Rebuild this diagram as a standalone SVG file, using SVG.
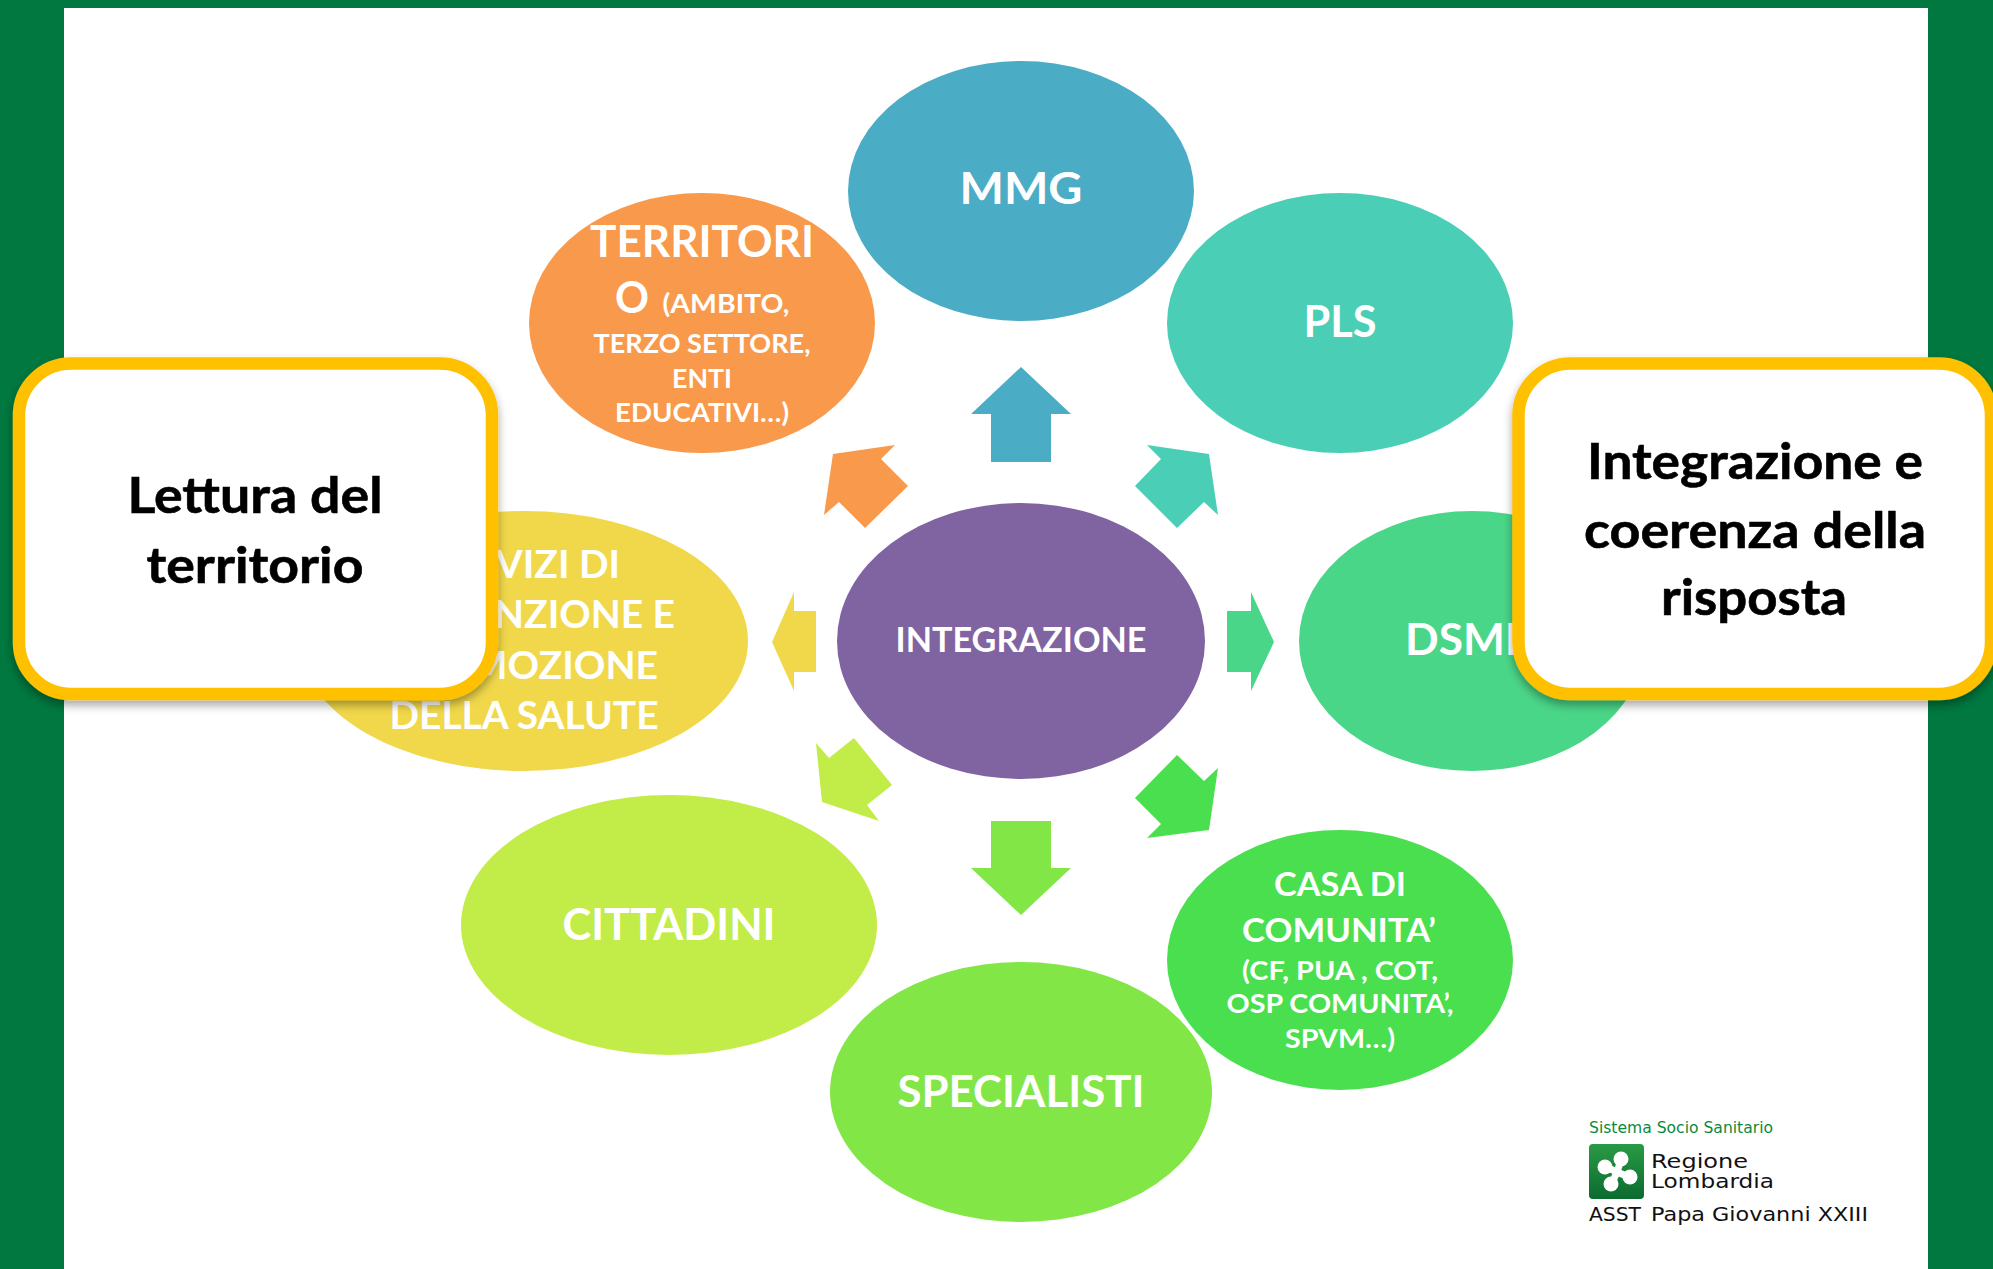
<svg xmlns="http://www.w3.org/2000/svg" width="1993" height="1269" viewBox="0 0 1993 1269">
<style>
text{font-family:Lato,"Open Sans","Liberation Sans",sans-serif;font-weight:700;text-anchor:middle}
.w{fill:#fff}
.k{fill:#000;font-size:50px;stroke:#000;stroke-width:.6}
.b{fill:#fff;stroke:#FFC000;stroke-width:12.5;filter:url(#sh)}
.l{font-family:"DejaVu Sans","Liberation Sans",sans-serif;font-weight:400;text-anchor:start;fill:#111;font-size:19px}
</style>
<defs>
<filter id="sh" x="-10%" y="-10%" width="120%" height="125%"><feDropShadow dx="0" dy="5" stdDeviation="5" flood-color="#000" flood-opacity=".35"/></filter>
<linearGradient id="lg" x1="0" y1="0" x2="0" y2="1"><stop offset="0" stop-color="#2a9a45"/><stop offset="1" stop-color="#0b6b30"/></linearGradient>
</defs>
<g id="frame">
<rect width="1993" height="1269" fill="#00783F"/>
<rect x="64" y="8" width="1864" height="1261" fill="#fff"/>
</g>
<g id="connectors">
<path fill="#4BACC6" d="M1021 367L1071 414H1051V462H991V414H971Z"/>
<path fill="#4ACFB6" d="M1209 454L1147 445L1161 459L1135 486L1177 528L1204 502L1218 515Z"/>
<path fill="#4AD688" d="M1227 611H1251V592L1274 642L1251 691V672H1227Z"/>
<path fill="#4ADF4E" d="M1177 755L1204 781L1218 768L1209 830L1147 838L1161 824L1135 798Z"/>
<path fill="#82E646" d="M991 821H1051V868H1071L1021 915L971 868H991Z"/>
<path fill="#C2EC47" d="M816 743L829 758L854 738L892 785L867 805L879 821L822 802Z"/>
<path fill="#F1D84A" d="M772 642L794 592V611H816V672H794V691Z"/>
<path fill="#F9994B" d="M833 454L895 445L881 459L908 486L865 528L839 502L824 515Z"/>
</g>
<g id="mmg"><ellipse cx="1021" cy="191" rx="173" ry="130" fill="#4BACC6"/>
<text class="w" x="1021" y="204" font-size="44" textLength="123" lengthAdjust="spacingAndGlyphs">MMG</text></g>
<g id="pls"><ellipse cx="1340" cy="323" rx="173" ry="130" fill="#4ACFB6"/>
<text class="w" x="1340" y="337" font-size="44" textLength="73" lengthAdjust="spacingAndGlyphs">PLS</text></g>
<g id="dsm"><ellipse cx="1472" cy="641" rx="173" ry="130" fill="#4AD688"/>
<text class="w" x="1472" y="655" font-size="44" textLength="134" lengthAdjust="spacingAndGlyphs">DSMH</text></g>
<g id="casa"><ellipse cx="1340" cy="960" rx="173" ry="130" fill="#4ADF4E"/>
<text class="w" x="1340" y="896" font-size="32" textLength="132" lengthAdjust="spacingAndGlyphs">CASA DI</text>
<text class="w" x="1339" y="942" font-size="32" textLength="194" lengthAdjust="spacingAndGlyphs">COMUNITA’</text>
<text class="w" x="1340" y="980" font-size="27" textLength="196" lengthAdjust="spacingAndGlyphs">(CF, PUA , COT,</text>
<text class="w" x="1340" y="1013" font-size="27" textLength="227" lengthAdjust="spacingAndGlyphs">OSP COMUNITA’,</text>
<text class="w" x="1340" y="1048" font-size="27" textLength="110" lengthAdjust="spacingAndGlyphs">SPVM…)</text></g>
<g id="specialisti"><ellipse cx="1021" cy="1092" rx="191" ry="130" fill="#82E646"/>
<text class="w" x="1021" y="1107" font-size="44" textLength="247" lengthAdjust="spacingAndGlyphs">SPECIALISTI</text></g>
<g id="cittadini"><ellipse cx="669" cy="925" rx="208" ry="130" fill="#C2EC47"/>
<text class="w" x="669" y="940" font-size="44" textLength="213" lengthAdjust="spacingAndGlyphs">CITTADINI</text></g>
<g id="servizi"><ellipse cx="524" cy="641" rx="224" ry="130" fill="#F1D84A"/>
<text class="w" x="524" y="578" font-size="38" textLength="192" lengthAdjust="spacingAndGlyphs">SERVIZI DI</text>
<text class="w" x="524" y="628" font-size="38" textLength="302" lengthAdjust="spacingAndGlyphs">PREVENZIONE E</text>
<text class="w" x="524" y="679" font-size="38" textLength="268" lengthAdjust="spacingAndGlyphs">PROMOZIONE</text>
<text class="w" x="524" y="729" font-size="38" textLength="269" lengthAdjust="spacingAndGlyphs">DELLA SALUTE</text></g>
<g id="territorio"><ellipse cx="702" cy="323" rx="173" ry="130" fill="#F9994B"/>
<text class="w" x="702" y="257" font-size="44" textLength="224" lengthAdjust="spacingAndGlyphs">TERRITORI</text>
<text class="w" x="632" y="313" font-size="44" textLength="34" lengthAdjust="spacingAndGlyphs">O</text>
<text class="w" x="726" y="313" font-size="27" textLength="127" lengthAdjust="spacingAndGlyphs">(AMBITO,</text>
<text class="w" x="702" y="353" font-size="27" textLength="217" lengthAdjust="spacingAndGlyphs">TERZO SETTORE,</text>
<text class="w" x="702" y="388" font-size="27" textLength="60" lengthAdjust="spacingAndGlyphs">ENTI</text>
<text class="w" x="702" y="422" font-size="27" textLength="174" lengthAdjust="spacingAndGlyphs">EDUCATIVI…)</text></g>
<g id="integrazione"><ellipse cx="1021" cy="641" rx="184" ry="138" fill="#8064A2"/>
<text class="w" x="1021" y="652" font-size="35" textLength="251" lengthAdjust="spacingAndGlyphs">INTEGRAZIONE</text></g>
<g id="lettura"><rect class="b" x="19" y="363.5" width="473" height="330.5" rx="52"/>
<text class="k" x="255" y="513" textLength="255" lengthAdjust="spacingAndGlyphs">Lettura del</text>
<text class="k" x="255" y="583" textLength="217" lengthAdjust="spacingAndGlyphs">territorio</text></g>
<g id="coerenza"><rect class="b" x="1518.5" y="363.5" width="472.5" height="330.5" rx="52"/>
<text class="k" x="1755" y="479" textLength="336" lengthAdjust="spacingAndGlyphs">Integrazione e</text>
<text class="k" x="1755" y="548" textLength="342" lengthAdjust="spacingAndGlyphs">coerenza della</text>
<text class="k" x="1754" y="615" textLength="186" lengthAdjust="spacingAndGlyphs">risposta</text></g>
<g id="logo">
<text class="l" x="1589" y="1133" style="fill:#0b8a3c;font-size:15px" textLength="184" lengthAdjust="spacingAndGlyphs">Sistema Socio Sanitario</text>
<rect x="1589" y="1144" width="55" height="55" rx="4" fill="url(#lg)"/>
<path d="M1606 1167L1617 1172L1621 1160M1617 1172L1629 1177M1617 1172L1612 1183" fill="none" stroke="#fff" stroke-width="7" stroke-linecap="round"/>
<g fill="#fff"><circle cx="1605" cy="1167" r="7.5"/><circle cx="1621" cy="1159" r="7.5"/><circle cx="1630" cy="1177" r="7.5"/><circle cx="1611" cy="1184" r="7.5"/></g>
<text class="l" x="1651" y="1168" textLength="97" lengthAdjust="spacingAndGlyphs">Regione</text>
<text class="l" x="1651" y="1188" textLength="123" lengthAdjust="spacingAndGlyphs">Lombardia</text>
<text class="l" x="1589" y="1221" textLength="52" lengthAdjust="spacingAndGlyphs">ASST</text>
<text class="l" x="1651" y="1221" textLength="217" lengthAdjust="spacingAndGlyphs">Papa Giovanni XXIII</text>
</g>
</svg>
